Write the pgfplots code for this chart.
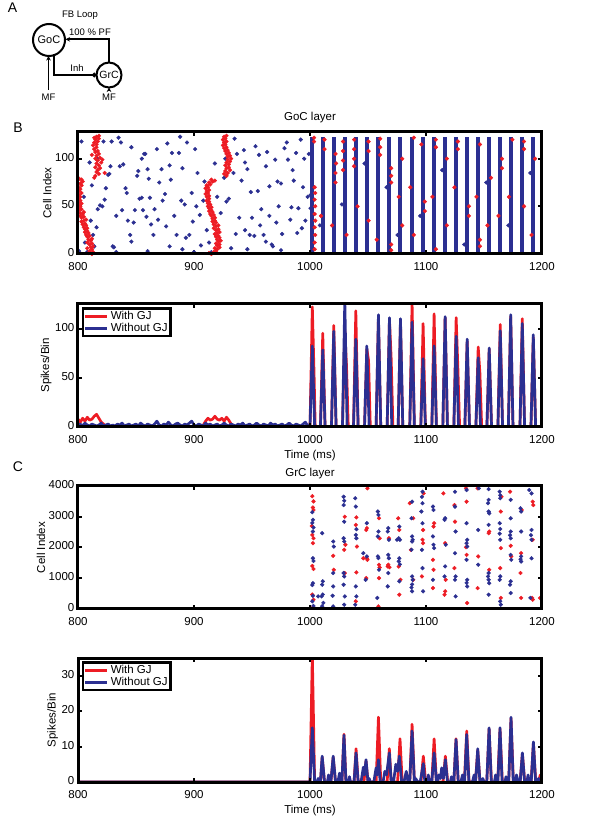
\documentclass[border=0pt]{standalone}
\usepackage{pgfplots}
\pgfplotsset{compat=1.18}
\usetikzlibrary{arrows.meta}
\usepackage{fontspec}
\setmainfont{Liberation Sans}
\definecolor{gjred}{RGB}{237,28,36}
\definecolor{gjblue}{RGB}{43,47,145}
\newcommand{\fs}{\fontsize{11.5pt}{13pt}\selectfont}
\pgfplotsset{
 mystyle/.style={
  scale only axis, width=464pt, anchor=south west,
  xmin=800, xmax=1200, xtick={800,900,1000,1100,1200},
  axis line style={line width=3pt, black},
  tick style={line width=2pt, black},
  major tick length=4pt,
  tick align=inside,
  tick label style={font=\fs},
  xticklabel style={inner sep=0pt, yshift=-8pt},
  yticklabel style={inner sep=0pt, xshift=-3.5pt, yshift=1.5pt},
  label style={font=\fs},
  xlabel style={inner sep=1pt, yshift=-5.5pt},
  /pgf/number format/assume math mode=true,
  /pgf/number format/1000 sep={},
  axis on top,
  clip=true,
  after end axis/.append code={\draw[line width=3pt, black, line join=miter] (rel axis cs:0,0) rectangle (rel axis cs:1,1);},
 },
 raster/.style={only marks, mark=*, mark size=1.9pt, mark options={draw=none}},
 hist/.style={line width=2.7pt, line join=round, mark=none},
 hleg/.style={
  legend image code/.code={\draw[##1] (0pt,0pt) -- (22pt,0pt);},
  legend style={at={(0.008,0.975)}, anchor=north west, draw=black, /tikz/line width=2.7pt,
   font=\fs, cells={anchor=west}, inner sep=1pt, row sep=-2pt},
 },
}
\begin{document}
\begin{tikzpicture}
\useasboundingbox (0pt,0pt) rectangle (600pt,823pt);
% ---------------- Panel A ----------------
\node[font=\fontsize{14pt}{16pt}\selectfont] at (12.5pt,815pt) {A};
\node[font=\fontsize{9.5pt}{11pt}\selectfont] at (80pt,808pt) {FB Loop};
\draw[line width=2pt] (49pt,783pt) circle (16pt);
\node[font=\fontsize{11pt}{12pt}\selectfont] at (49pt,783pt) {GoC};
\draw[line width=2pt] (109pt,748pt) circle (12.5pt);
\node[font=\fontsize{10.5pt}{12pt}\selectfont] at (109pt,748pt) {GrC};
\draw[line width=1.8pt, -{Stealth[length=4.5pt,width=4.5pt]}] (109pt,760.5pt) -- (109pt,783.7pt) -- (65.5pt,783.7pt);
\node[font=\fontsize{9.5pt}{11pt}\selectfont] at (90pt,790.5pt) {100 \% PF};
\draw[line width=1.8pt, -{Circle[length=4.5pt]}] (54pt,769pt) -- (54pt,748pt) -- (96.5pt,748pt);
\node[font=\fontsize{9.5pt}{11pt}\selectfont] at (77pt,755pt) {Inh};
\draw[line width=1.8pt, -{Stealth[length=4.5pt,width=4.5pt]}] (48.5pt,733pt) -- (48.5pt,767pt);
\node[font=\fontsize{9.5pt}{11pt}\selectfont] at (48.5pt,726pt) {MF};
\draw[line width=1.8pt, -{Stealth[length=4.5pt,width=4.5pt]}] (109pt,732pt) -- (109pt,735.5pt);
\node[font=\fontsize{9.5pt}{11pt}\selectfont] at (109pt,726pt) {MF};
% ---------------- Panel letters and titles ----------------
\node[font=\fontsize{14pt}{16pt}\selectfont] at (18pt,695pt) {B};
\node[font=\fontsize{14pt}{16pt}\selectfont] at (18pt,356pt) {C};
\node[font=\fs] at (310pt,705pt) {GoC layer};
\node[font=\fs] at (310pt,349pt) {GrC layer};
% ---------------- GoC raster ----------------
\begin{axis}[mystyle, at={(78pt,569pt)}, height=122pt, ymin=0, ymax=128, ytick={0,50,100}, ylabel={Cell Index}]
\addplot[raster, gjblue] coordinates {
(801,3)(803,118)(806,12)(808,2)(810,96)(811,35)(813,20)(814,8)(816,28)(817,47)(819,51)(821,50)(822,118)(823,57)(824,69)(826,83)(827,84)(828,92)(829,118)(830,8)(831,7)(833,2)(835,122)(836,92)(837,117)(838,46)(839,94)(841,69)(842,64)(843,35)(845,20)(846,13)(848,33)(849,46)(851,82)(852,87)(853,58)(855,59)(856,46)(857,105)(858,105)(859,39)(860,89)(861,79)(862,59)(863,31)(865,20)(866,47)(868,110)(869,36)(870,75)(872,89)(873,56)(875,63)(876,29)(877,116)(879,8)(880,78)(881,106)(883,40)(885,20)(887,106)(888,123)(889,56)(890,90)(892,52)(893,17)(894,117)(896,20)(898,64)(899,34)(900,2)(901,110)(903,85)(905,41)(906,9)(908,56)(909,76)(911,25)(913,12)(915,2)(920,60)(923,43)(926,80)(928,55)(930,58)(932,6)(934,85)(936,21)(937,105)(939,38)(941,77)(943,109)(944,96)(946,89)(948,20)(949,65)(950,38)(952,19)(953,113)(955,66)(956,104)(958,47)(960,20)(962,13)(963,107)(965,71)(967,10)(968,8)(970,99)(972,76)(973,50)(975,74)(976,21)(978,111)(980,117)(981,99)(983,36)(984,49)(986,77)(988,106)(989,22)(990,48)(992,120)(993,27)(995,100)(996,35)(998,60)(999,105)(902,50)(918,95)(935,121)(957,30)(971,33)(985,88)(994,70)(962,92)(944,25)(927,100)(946,5)(965,40)(975,4)(890,5)(860,3)(855,100)(846,112)(817,100)(812,72)(805,60)(833,40)(879,93)
(1000.5,62)(1000.5,48)(1008.5,30)(1027.5,52)(1047,95)(1066,70)(1075.5,20)(1095,40)(1114,88)(1133,10)(1152,75)(1171,30)(1190,85)
};
\addplot[raster, gjred] coordinates {
(812,0)(809,1)(813,2)(810,3)(812,5)(808,6)(811,7)(813,8)(810,10)(812,11)(808,12)(811,14)(809,15)(812,16)(808,18)(810,19)(807,20)(809,22)(806,23)(808,24)(806,26)(808,27)(805,28)(807,30)(804,31)(806,32)(803,34)(805,35)(807,36)(803,38)(805,39)(802,40)(804,42)(802,43)(805,44)(801,46)(803,47)(801,48)(802,50)(800.5,52)(803,53)(801,55)(802,56)(800.5,58)(802,60)(801,62)(803,64)(801,66)(802,68)(800.5,70)(803,72)(802,74)(804,76)(803,78)(801,79)
(814,80)(815,82)(818,84)(823,85)(816,86)(817,88)(819,90)(815,91)(818,93)(816,95)(820,96)(817,98)(815,100)(819,101)(816,103)(818,105)(815,107)(817,108)(814,110)(816,112)(813,114)(816,115)(814,117)(817,118)(815,120)(818,121)(816,123)(818,124)(814,122)(812,104)(821,99)
(915,0)(913,1)(917,2)(919,3)(920,5)(918,6)(922,7)(920,9)(922,10)(919,11)(921,13)(923,14)(920,15)(922,17)(919,18)(921,19)(918,21)(920,22)(922,23)(919,25)(921,26)(917,27)(919,29)(921,30)(917,31)(919,33)(916,34)(918,35)(916,37)(918,38)(915,40)(917,41)(914,42)(916,44)(913,45)(915,46)(913,48)(915,49)(912,50)(914,52)(912,53)(913,55)(911,56)(913,58)(911,60)(913,61)(910,63)(912,64)(911,66)(913,67)(910,69)(912,70)(911,72)(914,73)(913,75)(916,76)(918,77)(915,78)
(928,82)(926,84)(929,85)(927,87)(931,88)(928,90)(930,91)(927,93)(930,94)(928,96)(931,97)(929,99)(932,100)(929,102)(931,103)(928,105)(930,106)(927,108)(929,109)(926,111)(928,112)(925,114)(927,115)(926,117)(928,118)(925,120)(927,121)(926,123)(928,124)
(1004,12)(1004.5,20)(1004,28)(1004.5,35)(1004,42)(1004.5,50)(1004,57)(1004.5,64)(1004,70)(1003.5,118)(1003.5,122)(1004,5)
(1012.5,120)(1012.5,110)(1009.5,40)
(1022,75)(1022,85)(1022.5,95)(1022,105)(1019,30)
(1028.5,118)(1028.5,108)(1028.5,98)(1028.5,88)(1031.5,20)
(1038,120)(1038,110)(1038,100)(1038,92)(1041,50)
(1050.5,118)(1050.5,108)(1050.5,35)
(1060.5,121)(1060.5,112)(1060.5,104)(1057.5,15)
(1070,90)(1070,82)(1070,75)(1070,10)(1070,4)
(1076.5,60)(1079.5,100)(1079.5,30)
(1089.5,122)(1086.5,70)(1089.5,20)
(1096,115)(1099,45)(1099,55)
(1108.5,120)(1108.5,112)(1105.5,60)(1108.5,5)
(1118,100)(1118,30)
(1127.5,118)(1127.5,110)(1124.5,70)
(1137,50)(1137,40)
(1146.5,115)(1146.5,15)(1146.5,8)(1143.5,60)
(1156,80)(1153,30)
(1165.5,100)(1165.5,90)(1162.5,40)
(1174.5,120)(1171.5,60)
(1184.5,118)(1184.5,110)(1184.5,50)
(1194,100)(1191,20)
};
\addplot[ycomb, gjblue, line width=4pt, mark=none] coordinates {
(1002,123)(1011,123)(1020.5,123)(1030,123)(1039.5,123)(1049,123)(1059,123)(1068.5,123)(1078,123)(1088,123)(1097.5,123)(1107,123)(1116.5,123)(1126,123)(1135.5,123)(1145,123)(1154.5,123)(1164,123)(1173,123)(1183,123)(1192.5,123)
};
\end{axis}
% ---------------- GoC histogram ----------------
\begin{axis}[mystyle, hleg, at={(78pt,396pt)}, height=123pt, ymin=0, ymax=126, ytick={0,50,100}, ylabel={Spikes/Bin}, xlabel={Time (ms)}]
\addplot[hist, gjred] coordinates {
(800,8)(802,5)(804,9)(806,6)(808,10)(810,7)(812,8)(814,11)(816,13)(818,9)(820,5)(822,3)(824,1)(826,0)(906,0)(908,2)(910,6)(912,9)(914,7)(916,8)(918,11)(920,8)(922,7)(924,9)(926,6)(928,10)(930,7)(932,3)(934,1)(936,0)(1000,0)
(1002,123)(1003.5,55)(1004.5,0)
(1009,0)(1011,96)(1013,0)
(1018.5,0)(1020.5,104)(1022.5,0)
(1028,0)(1030,100)(1031.5,62)(1033,0)
(1037.5,0)(1039.5,119)(1041.5,0)
(1047,0)(1049,80)(1050.5,68)(1052,0)
(1057,0)(1059,112)(1061,0)
(1066.5,0)(1068.5,110)(1070,70)(1071.5,0)
(1076,0)(1078,108)(1080,0)
(1086,0)(1088,127)(1090,0)
(1095.5,0)(1097.5,106)(1099.5,0)
(1105,0)(1107,116)(1109,0)
(1114.5,0)(1116.5,112)(1118.5,0)
(1124,0)(1126,112)(1127.5,60)(1129,0)
(1133.5,0)(1135.5,88)(1137.5,0)
(1143,0)(1145,82)(1146.5,55)(1148,0)
(1152.5,0)(1154.5,80)(1156.5,0)
(1162,0)(1164,105)(1166,0)
(1171,0)(1173,113)(1175,0)
(1181,0)(1183,111)(1185,0)
(1190.5,0)(1192.5,92)(1194.5,0)(1200,0)
};
\addlegendentry{With GJ}
\addplot[hist, gjblue] coordinates {
(800,2)(802,3)(804,1)(806,4)(808,2)(810,1)(812,3)(814,2)(816,1)(818,2)(820,4)(822,1)(824,2)(826,3)(828,1)(830,2)(832,1)(834,3)(836,2)(838,4)(840,1)(842,2)(844,3)(846,1)(848,2)(850,3)(852,1)(854,4)(856,2)(858,1)(860,3)(862,2)(864,1)(866,3)(868,6)(870,2)(872,1)(874,3)(876,2)(878,5)(880,2)(882,1)(884,3)(886,4)(888,2)(890,1)(892,3)(894,2)(896,4)(898,6)(900,2)(902,1)(904,3)(906,2)(908,1)(910,4)(912,2)(914,3)(916,1)(918,2)(920,3)(922,1)(924,2)(926,4)(928,2)(930,1)(932,3)(934,2)(936,1)(938,3)(940,2)(942,4)(944,1)(946,2)(948,3)(950,1)(952,2)(954,4)(956,2)(958,1)(960,3)(962,2)(964,1)(966,4)(968,2)(970,3)(972,1)(974,2)(976,3)(978,1)(980,2)(982,4)(984,2)(986,1)(988,3)(990,2)(992,1)(994,3)(996,5)(998,1)(1000,0)
(1002,83)(1004,0)(1009,0)(1011,79)(1013,0)(1018.5,0)(1020.5,98)(1022.5,0)(1028,0)(1030,130)(1032,0)(1037.5,0)(1039.5,90)(1041.5,0)(1047,0)(1049,83)(1051,0)(1057,0)(1059,115)(1061,0)(1066.5,0)(1068.5,112)(1070.5,0)(1076,0)(1078,111)(1080,0)(1086,0)(1088,107.5)(1090,0)(1095.5,0)(1097.5,70)(1099.5,0)(1105,0)(1107,83)(1109,0)(1114.5,0)(1116.5,113)(1118.5,0)(1124,0)(1126,93)(1128,0)(1133.5,0)(1135.5,90)(1137.5,0)(1143,0)(1145,71)(1147,0)(1152.5,0)(1154.5,81)(1156.5,0)(1162,0)(1164,98.6)(1166,0)(1171,0)(1173,115)(1175,0)(1181,0)(1183,106)(1185,0)(1190.5,0)(1192.5,94.5)(1194.5,0)(1200,0)
};
\addlegendentry{Without GJ}
\end{axis}
% ---------------- GrC raster ----------------
\begin{axis}[mystyle, at={(78pt,214pt)}, height=123pt, ymin=0, ymax=4000, ytick={0,1000,2000,3000,4000}, ylabel={Cell Index}]
\addplot[raster, gjred] coordinates {
(1002,3670)(1003,3500)(1002.5,3300)(1003,3220)(1002,2410)(1003,2300)(1002.5,2140)(1002,1400)(1003,1300)(1002,470)(1003,300)(1002.5,50)(1001.5,2700)
(1020,1730)(1020.5,1275)
(1030,3000)(1030.5,2090)(1029.5,1925)(1030,1170)
(1040,2980)(1039.5,2735)(1040.5,2030)(1040,1190)(1039.5,250)
(1049.5,3925)(1049,2630)(1048.5,2570)(1049,1650)(1049.5,1600)(1048.5,1005)(1046,1650)
(1059.5,2950)(1060,2300)(1059.5,1440)(1060,1350)(1059.5,1005)(1059,85)
(1068,2300)(1067.5,1440)(1068.5,1360)(1067,1385)
(1076,2950)(1077,2570)(1076.5,1380)(1078,950)(1077,465)
(1086,3440)(1089,2950)(1087,1925)(1089,950)
(1098,3760)(1097.5,2570)(1097,2250)(1097.5,2140)(1096.5,1060)
(1107,2790)(1106.5,2680)(1106,1600)(1106.5,1275)(1106,680)
(1115,3760)(1116.5,2140)(1117,950)(1116.5,575)(1116,465)
(1124.5,3380)(1125,2840)(1124.5,1330)
(1134.5,3925)(1135,3490)(1134.5,2010)(1135,1760)(1135.5,195)
(1144.5,3925)(1145,1710)(1144.5,680)
(1154.5,2520)(1154,2465)(1154.5,1275)
(1165,3650)(1164.5,3170)(1164.5,1980)(1164,1330)(1164.5,360)
(1172.5,3815)(1173,2055)(1173.5,1710)
(1182.5,3220)(1182,1815)(1181.5,1170)(1182,360)
(1192,3490)(1192.5,3380)(1192,2250)(1191.5,360)(1192,305)(1198.3,357)
};
\addplot[raster, gjblue] coordinates {
(1002.5,2900)(1002,2800)(1003,2650)(1002.5,2520)(1002,3150)(1002.5,1650)(1003,1560)(1002.5,840)(1002,780)(1002.5,430)(1002,250)(1003,100)
(1010.5,2465)(1011,900)(1010.5,790)(1011,470)(1010,410)(1011.5,200)(1010.5,90)(1007,410)
(1020,2195)(1020.5,2030)(1020,1170)(1020,735)(1019.5,430)(1020,85)
(1029,3650)(1029.5,3520)(1029,3380)(1029.5,2840)(1029,2300)(1029.5,2195)(1029,1170)(1029.5,1060)(1029,790)(1030,410)(1029.5,140)
(1039,3600)(1039.5,3330)(1040,2595)(1039.5,2410)(1040,2300)(1039.5,735)(1040,410)(1039,140)
(1049,2790)(1049,1710)(1048,950)(1046,1815)
(1058.5,3170)(1059,3060)(1059,2520)(1058.5,2360)(1058.5,1710)(1059,1655)(1059.5,1275)(1058,360)
(1067.5,2630)(1067,2520)(1068,2250)(1067.5,1760)(1068,1650)(1067.5,1170)(1067,735)
(1077,2680)(1076.5,2300)(1077.5,2250)(1077,1650)(1076.5,1550)(1077.5,1450)(1077,900)(1075,2250)
(1088,3490)(1087.5,2950)(1088,2360)(1088.5,2250)(1088,2195)(1087.5,1925)(1088,1060)(1088.5,950)(1088,800)(1087.5,700)(1088,575)
(1097,3815)(1096.5,3650)(1097,3440)(1096,3170)(1097,2790)(1096.5,1925)(1097,1330)(1097.5,575)
(1106,3330)(1106.5,3220)(1106,2360)(1106.5,2090)(1107,1980)(1106,950)
(1116.5,2950)(1116,2900)(1117,2090)(1116.5,1385)(1116,1060)
(1125,3815)(1125,3330)(1125.5,2520)(1125,1815)(1125.5,1060)(1125,950)(1125.5,410)
(1135,3870)(1135,2790)(1135.5,2250)(1135,2140)(1135.5,2030)(1135,1600)(1135.5,950)(1135,850)(1135.5,735)
(1145.5,3925)(1145,2570)(1145,1440)
(1154,3900)(1154,3550)(1153.5,3440)(1154,3170)(1154.5,3110)(1154,2735)(1154,1170)(1153.5,1060)(1154,950)(1154.5,840)(1154,465)
(1163.5,3815)(1164,3700)(1164,3600)(1163.5,2790)(1164,2600)(1163.5,2450)(1164,2250)(1164,1060)(1163.5,950)(1164,250)(1164.5,140)
(1173,3550)(1173,2950)(1173,2520)(1172.5,2400)(1173,2300)(1173,1760)(1173.5,1600)(1173,900)(1172.5,790)(1173,520)
(1181.5,3275)(1182,3170)(1182,2520)(1182,1710)(1181.5,1620)(1182,1545)
(1191,3760)(1189,3870)(1191,2570)(1190.5,2400)(1191,2250)(1191,1650)(1190,360)
};
\end{axis}
% ---------------- GrC histogram ----------------
\begin{axis}[mystyle, hleg, at={(78pt,41pt)}, height=124pt, ymin=0, ymax=35, ytick={0,10,20,30}, ylabel={Spikes/Bin}, xlabel={Time (ms)}]
\addplot[hist, gjred] coordinates {
(800,0)(1000,0)(1002,36)(1004,0)(1009,0)(1010.5,7)(1012.5,0)(1018,0)(1020,7)(1022,0)(1027.5,0)(1029.3,13.5)(1031,0)(1038,0)(1039.7,9.4)(1041.5,0)(1046.5,0)(1048.3,6)(1050,0)(1057,0)(1059,18.3)(1061,0)(1066.5,0)(1068.4,9.4)(1070,0)(1075.5,0)(1077.6,12.2)(1079.5,0)(1086,0)(1088,16.3)(1090,0)(1095.7,0)(1097.7,7.3)(1099.7,0)(1105,0)(1107,12.2)(1109,0)(1114.7,0)(1116.7,7.3)(1118.7,0)(1124,0)(1125.9,12.2)(1127.8,0)(1133.1,0)(1135.1,14.4)(1137.1,0)(1142.6,0)(1144.6,9)(1146.6,0)(1152.4,0)(1154.4,15)(1156.4,0)(1161.8,0)(1163.8,15)(1165.8,0)(1171.3,0)(1173.3,18)(1175.3,0)(1181.1,0)(1183.1,8)(1185.1,0)(1190.6,0)(1192.6,11)(1194.6,0)(1197,0)(1198.5,2)(1200,2)
};
\addlegendentry{With GJ}
\addplot[hist, gjblue] coordinates {
(800,0)(1000,0)(1002,15.3)(1004,0)(1006,0)(1007,1)(1008,0)(1009,0)(1010.5,7.3)(1012.5,0)(1015,0)(1016,2)(1017,0)(1018,0)(1020,7.3)(1022,0)(1024,0)(1025.5,2.5)(1027,0)(1027.5,0)(1029.3,13.2)(1031,0)(1033,0)(1034,1.5)(1035,0)(1038,0)(1039.7,8.2)(1041.5,0)(1044,0)(1046,4.2)(1047,2)(1048.3,6.3)(1050,0)(1051,1)(1052,0)(1055,0)(1057,4)(1058,2)(1059,6.3)(1060.5,0)(1063,0)(1064.5,3)(1066,2)(1068.4,8.2)(1070,0)(1072,0)(1074,5)(1075.5,3)(1077,7.3)(1079,0)(1081,0)(1083,3)(1084.5,0)(1086,0)(1088,14.4)(1090,0)(1091,1)(1093,0)(1095,0)(1097.7,5.2)(1099,0)(1101,0)(1102,2)(1103,0)(1105,0)(1107,8.2)(1109,0)(1110,0)(1111,2)(1112.5,1)(1113.5,4)(1115,1)(1116.7,6.3)(1118.5,0)(1121,0)(1122,1.5)(1123,0)(1124,0)(1125.9,12)(1127.8,0)(1130,0)(1131.5,2)(1133,0)(1133.3,0)(1135.1,13.4)(1137,0)(1140,0)(1141.5,2)(1142.8,0)(1144.6,9.4)(1146.5,0)(1148,0)(1149,1)(1150,0)(1152.4,0)(1154.4,15.3)(1156.3,0)(1159,0)(1160,2)(1161,0)(1162,0)(1163.8,15.3)(1165.6,0)(1168,0)(1169,1.5)(1170,0)(1171.3,0)(1173.3,18.3)(1175.2,0)(1177,0)(1178,2)(1179.5,0)(1181.2,0)(1183.1,8.2)(1185,0)(1187,0)(1188,2)(1189,0)(1190.7,0)(1192.6,11.3)(1194.5,0)(1196,0)(1197,1)(1198,0)(1200,0)
};
\addlegendentry{Without GJ}
\end{axis}
\end{tikzpicture}
\end{document}
